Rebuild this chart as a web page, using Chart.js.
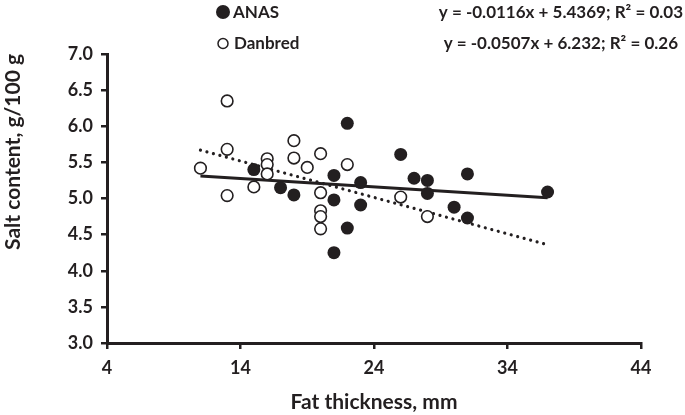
<!DOCTYPE html>
<html>
<head>
<meta charset="utf-8">
<script src="https://cdn.jsdelivr.net/npm/chart.js@4"></script>
<style>
html,body{margin:0;padding:0;background:#fff;}
#wrap{width:685px;height:415px;position:relative;}
</style>
</head>
<body>
<div id="wrap"><canvas id="c" width="685" height="415"></canvas></div>
<script>
// ---- data ----
const seriesNames = ["ANAS", "Danbred"];
const equations = ["y = -0.0116x + 5.4369; R\u00B2 = 0.03", "y = -0.0507x + 6.232; R\u00B2 = 0.26"];

const anasX = [15, 17, 18, 21, 21, 21, 22, 22, 23, 23, 26, 27, 28, 28, 30, 31, 31, 37];
const anasY = [5.40, 5.15, 5.05, 5.32, 4.98, 4.25, 6.04, 4.59, 5.22, 4.91, 5.61, 5.28, 5.25, 5.07, 4.88, 5.34, 4.73, 5.09];

const danX = [11, 13, 13, 13, 15, 16, 16, 16, 18, 18, 19, 20, 20, 20, 20, 20, 22, 26, 28];
const danY = [5.42, 6.35, 5.68, 5.04, 5.16, 5.55, 5.47, 5.34, 5.80, 5.56, 5.43, 5.62, 5.08, 4.83, 4.75, 4.58, 5.47, 5.02, 4.75];

// trend line end points
const anasTrendX = [11, 37];
const anasTrendY = [5.31, 5.01];
const danTrendX = [11, 37];
const danTrendY = [5.67, 4.36];

const xTicks = [4, 14, 24, 34, 44];
const yTicks = [3.0, 3.5, 4.0, 4.5, 5.0, 5.5, 6.0, 6.5, 7.0];
const xTitle = "Fat thickness, mm";
const yTitle = "Salt content, g/100 g";

// ---- build ----
const pts = (xs, ys) => xs.map((x, i) => ({x: x, y: ys[i]}));
const INK = '#231f20';
const FONT = 'Lato';

const legendPlugin = {
  id: 'legendEq',
  afterDraw(chart) {
    const ctx = chart.ctx;
    ctx.save();
    ctx.textBaseline = 'middle';
    ctx.font = 'bold 17px ' + FONT;
    ctx.fillStyle = INK;
    // ANAS marker
    ctx.beginPath(); ctx.arc(223, 12, 7, 0, Math.PI * 2); ctx.fill();
    ctx.textAlign = 'left';
    ctx.fillText(seriesNames[0], 233, 13);
    // Danbred marker
    ctx.beginPath(); ctx.arc(223, 43.5, 5, 0, Math.PI * 2);
    ctx.fillStyle = '#fff'; ctx.fill();
    ctx.lineWidth = 1.5; ctx.strokeStyle = INK; ctx.stroke();
    ctx.fillStyle = INK;
    ctx.fillText(seriesNames[1], 234, 44);
    ctx.textAlign = 'right';
    ctx.fillText(equations[0], 683, 13);
    ctx.fillText(equations[1], 678, 44);
    ctx.restore();
  }
};

new Chart(document.getElementById('c'), {
  type: 'scatter',
  data: {
    datasets: [
      {
        label: seriesNames[0],
        data: pts(anasX, anasY),
        backgroundColor: INK,
        borderColor: INK,
        borderWidth: 0,
        pointRadius: 6.5,
        pointHoverRadius: 6.5
      },
      {
        label: seriesNames[1],
        data: pts(danX, danY),
        backgroundColor: '#ffffff',
        borderColor: INK,
        borderWidth: 1.6,
        pointRadius: 5.8,
        pointHoverRadius: 5.8
      },
      {
        label: 'ANAS trend',
        data: pts(anasTrendX, anasTrendY),
        showLine: true,
        borderColor: INK,
        borderWidth: 3,
        pointRadius: 0,
        fill: false
      },
      {
        label: 'Danbred trend',
        data: pts(danTrendX, danTrendY),
        showLine: true,
        borderColor: INK,
        borderWidth: 3.2,
        borderDash: [0.01, 6.7],
        borderCapStyle: 'round',
        pointRadius: 0,
        fill: false
      }
    ]
  },
  options: {
    responsive: false,
    animation: false,
    events: [],
    layout: {padding: {left: 0, right: 44, top: 54, bottom: 0}},
    plugins: {legend: {display: false}, tooltip: {enabled: false}},
    scales: {
      x: {
        type: 'linear',
        min: 4, max: 44,
        afterBuildTicks: s => { s.ticks = xTicks.map(v => ({value: v})); },
        afterFit: s => { s.height = 72; },
        ticks: {color: INK, font: {family: FONT, size: 18, weight: 'bold'}, padding: 8, maxRotation: 0,
                callback: v => String(v)},
        grid: {display: true, drawOnChartArea: false, drawTicks: true, tickLength: 6, color: INK, lineWidth: 2.5},
        border: {display: true, color: INK, width: 3},
        title: {display: true, text: xTitle, color: INK, font: {family: FONT, size: 21, weight: 'bold'},
                padding: {top: 0, bottom: 0}}
      },
      y: {
        type: 'linear',
        min: 3, max: 7,
        afterBuildTicks: s => { s.ticks = yTicks.map(v => ({value: v})); },
        afterFit: s => { s.width = 107; },
        ticks: {color: INK, font: {family: FONT, size: 18, weight: 'bold'}, padding: 8,
                callback: v => Number(v).toFixed(1)},
        grid: {display: true, drawOnChartArea: false, drawTicks: true, tickLength: 6, color: INK, lineWidth: 2.5},
        border: {display: true, color: INK, width: 3},
        title: {display: true, text: yTitle, color: INK, align: 'end', font: {family: FONT, size: 21, weight: 'bold'},
                padding: {top: 0.5, bottom: 0}}
      }
    }
  },
  plugins: [legendPlugin]
});
</script>
</body>
</html>
